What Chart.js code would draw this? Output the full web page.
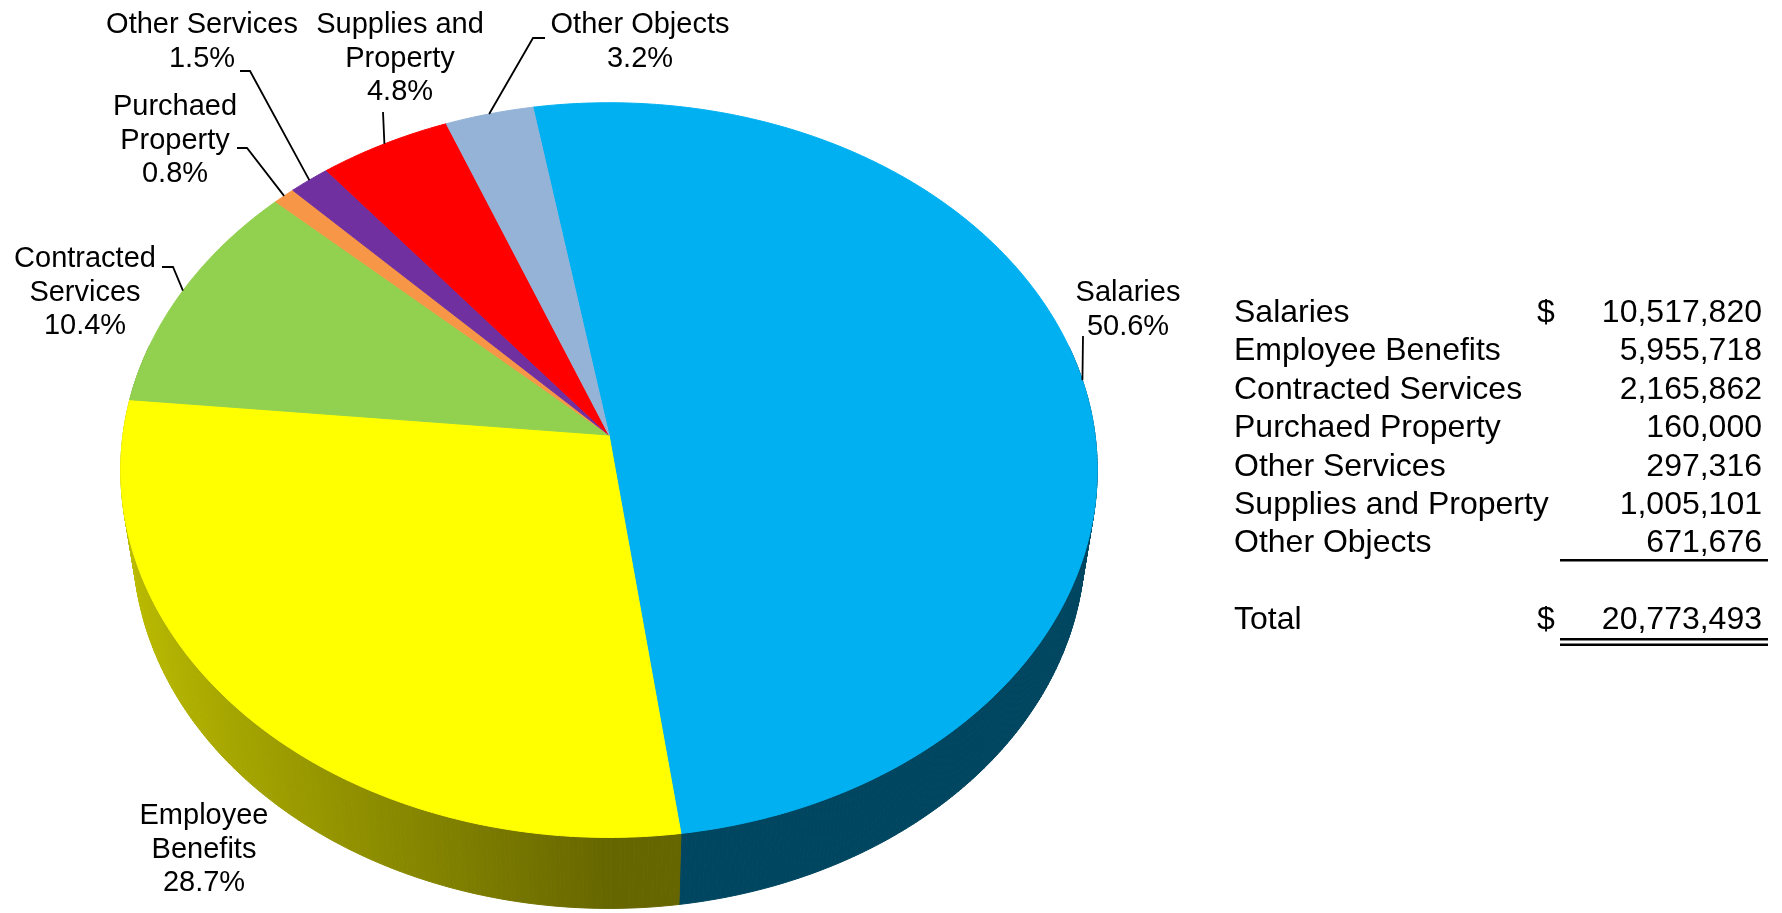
<!DOCTYPE html>
<html>
<head>
<meta charset="utf-8">
<title>Expenditures by Object</title>
<script src="https://cdn.jsdelivr.net/npm/chart.js@4.4.1/dist/chart.umd.min.js"></script>
<style>
  html, body { margin: 0; padding: 0; background: #fff; }
  canvas { display: block; }
</style>
</head>
<body>
<canvas id="objectsChart" width="1782" height="913"></canvas>
<script>
// Expenditure objects, in slice order (clockwise from the top)
const categories = ['Salaries', 'Employee Benefits', 'Contracted Services', 'Purchaed Property',
                    'Other Services', 'Supplies and Property', 'Other Objects'];
// Dollar amounts for the table on the right
const amounts = [10517820, 5955718, 2165862, 160000, 297316, 1005101, 671676];
// Share of the total, as printed on the slices
const percents = [50.6, 28.7, 10.4, 0.8, 1.5, 4.8, 3.2];
// How each slice label is broken over lines
const labelLines = [
    ['Salaries'],
    ['Employee', 'Benefits'],
    ['Contracted', 'Services'],
    ['Purchaed', 'Property'],
    ['Other Services'],
    ['Supplies and', 'Property'],
    ['Other Objects']
];
const sliceColors = ['#00b0f0', '#ffff00', '#92d050', '#f79646', '#7030a0', '#ff0000', '#95b3d7'];

// Where the slice labels sit (center x, first line center y) and the start of their leader line
const labelLayout = [
    { x: 1128, y: 291, leader: [1083, 336, 1083] },
    { x: 204,  y: 814, leader: null },
    { x: 85,   y: 257, leader: [162, 267, 173] },
    { x: 175,  y: 105, leader: [237, 148, 247] },
    { x: 202,  y: 23,  leader: [240, 71, 250] },
    { x: 400,  y: 23,  leader: [383, 112, 383] },
    { x: 640,  y: 23,  leader: [545, 38, 533] }
];

const FONT = '"Liberation Sans", Arial, sans-serif';

// Perspective camera for the tilted pie (radius = 1)
const VIEW = {
    dist: 6.94,                    // camera distance
    tilt: 48.5 * Math.PI / 180,    // elevation angle
    depth: 0.237,                  // pie thickness
    zoom: 7.754                    // focal length, in outer radii
};

function project(arc, angle, h) {
    const X = Math.cos(angle), Z = Math.sin(angle);
    const s = Math.sin(VIEW.tilt), c = Math.cos(VIEW.tilt);
    const F = arc.outerRadius * VIEW.zoom;
    const w = VIEW.dist + h * s - Z * c;
    return { x: arc.x + X / w * F, y: arc.y + (h * c + Z * s) / w * F };
}

function hexToRgb(hex) {
    const n = parseInt(hex.slice(1), 16);
    return [(n >> 16) & 255, (n >> 8) & 255, n & 255];
}

// Side walls get darker toward the front, lit from the left
function wallShade(angle) {
    return 0.40 + 0.34 * Math.max(0, -Math.cos(angle));
}

const pie3d = {
    id: 'pie3d',
    beforeDatasetsDraw(chart) {
        const ctx = chart.ctx;
        const arcs = chart.getDatasetMeta(0).data;
        const colors = chart.data.datasets[0].backgroundColor;
        const step = Math.PI / 360;

        ctx.save();
        ctx.lineJoin = 'round';

        // outer walls, back to front
        const midZ = arc => Math.sin((arc.startAngle + arc.endAngle) / 2);
        const order = arcs.map((a, i) => i).sort((i, j) => midZ(arcs[i]) - midZ(arcs[j]));
        order.forEach(i => {
            const arc = arcs[i];
            const rgb = hexToRgb(colors[i]);
            for (let a = arc.startAngle; a < arc.endAngle; a += step) {
                const b = Math.min(a + step, arc.endAngle);
                const m = (a + b) / 2;
                if (Math.sin(m) < -0.25) continue; // behind the top face anyway
                const p1 = project(arc, a, 0), p2 = project(arc, b, 0);
                const p3 = project(arc, b, VIEW.depth), p4 = project(arc, a, VIEW.depth);
                const k = wallShade(m);
                const col = 'rgb(' + rgb.map(v => Math.round(v * k)).join(',') + ')';
                ctx.fillStyle = col;
                ctx.strokeStyle = col;
                ctx.lineWidth = 1;
                ctx.beginPath();
                ctx.moveTo(p1.x, p1.y);
                ctx.lineTo(p2.x, p2.y);
                ctx.lineTo(p3.x, p3.y);
                ctx.lineTo(p4.x, p4.y);
                ctx.closePath();
                ctx.fill();
                ctx.stroke();
            }
        });

        // top faces
        arcs.forEach((arc, i) => {
            ctx.beginPath();
            ctx.moveTo(arc.x, arc.y);
            for (let a = arc.startAngle; a < arc.endAngle; a += step) {
                const p = project(arc, a, 0);
                ctx.lineTo(p.x, p.y);
            }
            const e = project(arc, arc.endAngle, 0);
            ctx.lineTo(e.x, e.y);
            ctx.closePath();
            ctx.fillStyle = colors[i];
            ctx.fill();
            ctx.strokeStyle = colors[i];
            ctx.lineWidth = 1;
            ctx.stroke();
        });
        ctx.restore();
        return false; // skip the flat pie
    },
    afterDraw(chart) {
        const ctx = chart.ctx;
        const arcs = chart.getDatasetMeta(0).data;
        ctx.save();

        // slice labels and leader lines
        ctx.fillStyle = '#000';
        ctx.strokeStyle = '#000';
        ctx.lineWidth = 1.8;
        ctx.font = '29px ' + FONT;
        ctx.textAlign = 'center';
        ctx.textBaseline = 'alphabetic';
        const lineGap = 33.5;
        categories.forEach((name, i) => {
            const lay = labelLayout[i];
            const lines = labelLines[i].concat([percents[i].toFixed(1) + '%']);
            lines.forEach((t, j) => ctx.fillText(t, lay.x, lay.y + j * lineGap + 10.4));

            if (lay.leader) {
                const arc = arcs[i];
                const rim = project(arc, (arc.startAngle + arc.endAngle) / 2, 0);
                const [x0, y0, x1] = lay.leader;
                ctx.beginPath();
                ctx.moveTo(x0, y0);
                ctx.lineTo(x1, y0);
                ctx.lineTo(rim.x, rim.y);
                ctx.stroke();
            }
        });

        // amounts table
        const nameX = 1234, dollarX = 1537, valueX = 1762;
        const rowTop = 322, rowGap = 38.4;
        ctx.font = '32px ' + FONT;
        const fmt = v => v.toLocaleString('en-US');
        categories.forEach((name, i) => {
            const y = rowTop + i * rowGap;
            ctx.textAlign = 'left';
            ctx.fillText(name, nameX, y);
            if (i === 0) ctx.fillText('$', dollarX, y);
            ctx.textAlign = 'right';
            ctx.fillText(fmt(amounts[i]), valueX, y);
        });
        const total = amounts.reduce((s, v) => s + v, 0);
        const totalY = rowTop + (categories.length + 1) * rowGap;
        ctx.textAlign = 'left';
        ctx.fillText('Total', nameX, totalY);
        ctx.fillText('$', dollarX, totalY);
        ctx.textAlign = 'right';
        ctx.fillText(fmt(total), valueX, totalY);

        // single rule above the total, double rule below it
        ctx.fillRect(1560, 559, 208, 2.5);
        ctx.fillRect(1560, 638, 208, 2.5);
        ctx.fillRect(1560, 643.5, 208, 2.5);

        ctx.restore();
    }
};

const ctx = document.getElementById('objectsChart').getContext('2d');
const objectsChart = new Chart(ctx, {
    type: 'pie',
    data: {
        labels: categories,
        datasets: [{
            data: percents,
            backgroundColor: sliceColors,
            borderWidth: 0,
            hoverOffset: 0
        }]
    },
    options: {
        responsive: false,
        animation: false,
        events: [],
        rotation: -9.86,
        layout: { padding: { left: 0, top: 0, right: 564, bottom: 43 } },
        plugins: {
            legend: { display: false },
            tooltip: { enabled: false }
        }
    },
    plugins: [pie3d]
});
</script>
</body>
</html>
